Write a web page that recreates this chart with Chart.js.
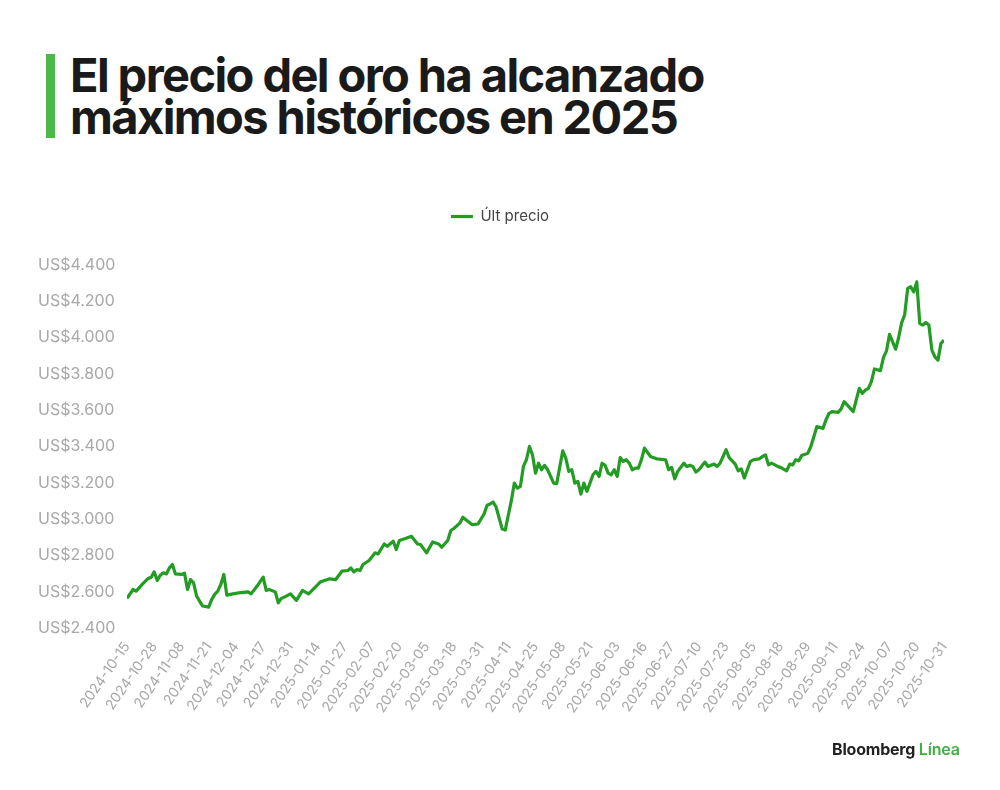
<!DOCTYPE html>
<html lang="es">
<head>
<meta charset="utf-8">
<title>El precio del oro ha alcanzado máximos históricos en 2025</title>
<script src="https://cdn.jsdelivr.net/npm/chart.js@4.4.1/dist/chart.umd.min.js"></script>
<style>
  html, body { margin: 0; padding: 0; background: #fff; }
  body { width: 1000px; height: 790px; position: relative; overflow: hidden; font-family: Inter, "Noto Sans", sans-serif; }
  #chart { position: absolute; left: 0; top: 0; }
  .title {
    position: absolute; left: 46px; top: 54px;
    border-left: 9px solid #4cb848; padding-left: 15px;
    font-weight: 700; font-size: 47px; line-height: 42px; letter-spacing: -1.6px; color: #1a1a1a;
  }
  .logo {
    position: absolute; left: 832px; top: 739px;
    font-size: 16px; font-weight: 700; color: #222; letter-spacing: -0.2px;
  }
  .logo span { color: #3cb043; font-weight: 600; }
</style>
</head>
<body>
<div class="title">El precio del oro ha alcanzado<br>máximos históricos en 2025</div>
<canvas id="chart" width="1000" height="790"></canvas>
<div class="logo">Bloomberg <span>Línea</span></div>
<script>
// trading-day index (0 = 2024-10-15) and last price
const dayIndex = [
    0, 2, 3, 4, 5, 7, 8, 9, 10, 11, 12, 13, 14, 15, 16, 18, 19, 20, 21, 22,
    23, 24, 25, 27, 28, 29, 30, 31, 32, 33, 35, 37, 40, 41, 43, 45, 46, 47, 49, 50,
    51, 52, 54, 56, 58, 60, 62, 64, 67, 69, 71, 73, 74, 75, 76, 77, 78, 80, 82, 83,
    85, 86, 88, 89, 90, 92, 94, 96, 97, 99, 101, 103, 104, 106, 107, 108, 110, 111, 112, 114,
    116, 118, 119, 120, 121, 122, 124, 125, 127, 128, 129, 130, 131, 132, 133, 134, 135, 136, 137, 138,
    139, 141, 142, 144, 145, 146, 147, 148, 149, 150, 151, 152, 153, 154, 155, 156, 157, 158, 159, 160,
    161, 162, 163, 164, 165, 166, 167, 168, 169, 170, 171, 173, 175, 178, 179, 180, 181, 182, 184, 185,
    186, 187, 188, 189, 191, 192, 194, 195, 196, 198, 199, 201, 202, 203, 204, 206, 207, 209, 210, 211,
    212, 213, 215, 216, 218, 219, 220, 221, 222, 223, 225, 226, 227, 228, 230, 231, 232, 233, 235, 236,
    237, 238, 240, 241, 242, 243, 244, 245, 246, 247, 249, 250, 251, 252, 254, 255, 256, 257, 258, 259,
    260, 261, 262, 263, 264, 265, 266, 267, 268, 269, 270
];
const lastPrice = [
    2563, 2612, 2603, 2621, 2640, 2673, 2680, 2709, 2662, 2691, 2704, 2698, 2731, 2750, 2698, 2695, 2702, 2612, 2667, 2649,
    2576, 2548, 2521, 2515, 2558, 2585, 2603, 2640, 2695, 2581, 2588, 2594, 2599, 2588, 2631, 2680, 2607, 2612, 2599, 2539,
    2563, 2570, 2588, 2552, 2607, 2588, 2621, 2655, 2671, 2667, 2713, 2717, 2731, 2709, 2722, 2717, 2750, 2772, 2814, 2808,
    2863, 2850, 2878, 2832, 2882, 2893, 2905, 2863, 2860, 2814, 2874, 2863, 2845, 2882, 2937, 2948, 2978, 3010, 2997, 2970,
    2973, 3028, 3076, 3083, 3094, 3065, 2945, 2940, 3100, 3198, 3171, 3180, 3290, 3327, 3400, 3354, 3253, 3308, 3272, 3296,
    3272, 3198, 3195, 3376, 3336, 3263, 3272, 3198, 3208, 3138, 3198, 3153, 3198, 3244, 3263, 3235, 3308, 3296, 3253, 3244,
    3272, 3235, 3339, 3318, 3327, 3308, 3272, 3281, 3281, 3327, 3391, 3345, 3332, 3327, 3272, 3285, 3222, 3263, 3308, 3290,
    3296, 3290, 3259, 3272, 3314, 3290, 3303, 3290, 3308, 3382, 3339, 3303, 3266, 3277, 3226, 3317, 3327, 3332, 3345, 3354,
    3299, 3308, 3290, 3285, 3266, 3303, 3299, 3327, 3321, 3351, 3363, 3400, 3455, 3510, 3500, 3547, 3583, 3592, 3588, 3607,
    3647, 3629, 3592, 3657, 3720, 3693, 3710, 3720, 3757, 3827, 3818, 3891, 3927, 4018, 3936, 3999, 4081, 4126, 4271, 4280,
    4252, 4307, 4077, 4069, 4083, 4069, 3931, 3894, 3876, 3968, 3986
];
// one label every 9 trading days
const xTickLabels = [
    "2024-10-15", "2024-10-28", "2024-11-08", "2024-11-21", "2024-12-04", "2024-12-17", "2024-12-31",
    "2025-01-14", "2025-01-27", "2025-02-07", "2025-02-20", "2025-03-05", "2025-03-18", "2025-03-31",
    "2025-04-11", "2025-04-25", "2025-05-08", "2025-05-21", "2025-06-03", "2025-06-16", "2025-06-27",
    "2025-07-10", "2025-07-23", "2025-08-05", "2025-08-18", "2025-08-29", "2025-09-11", "2025-09-24",
    "2025-10-07", "2025-10-20", "2025-10-31"
];
const labelStep = 9;
const seriesName = "Últ precio";

const green = "#229c22";

// extra room between legend and plot
const legendGap = {
    id: "legendGap",
    beforeInit(chart) {
        const fit = chart.legend.fit;
        chart.legend.fit = function () {
            fit.bind(chart.legend)();
            this.height += 31;
        };
    }
};

function usd(v) {
    const k = Math.floor(v / 1000);
    const r = String(v % 1000).padStart(3, "0");
    return "US$" + k + "." + r;
}

const points = dayIndex.map((d, i) => ({ x: d, y: lastPrice[i] }));

new Chart(document.getElementById("chart"), {
    type: "line",
    data: {
        datasets: [{
            label: seriesName,
            data: points,
            borderColor: green,
            backgroundColor: green,
            borderWidth: 3.2,
            pointRadius: 0,
            tension: 0,
            borderJoinStyle: "round"
        }]
    },
    plugins: [legendGap],
    options: {
        responsive: false,
        animation: false,
        layout: { padding: { top: 199, left: 38, right: 38, bottom: 62 } },
        plugins: {
            legend: {
                labels: {
                    usePointStyle: true,
                    pointStyle: "line",
                    pointStyleWidth: 22,
                    color: "#444",
                    font: { family: "Inter", size: 15 },
                    padding: 10
                }
            },
            tooltip: { enabled: false }
        },
        scales: {
            x: {
                type: "linear",
                min: 0,
                max: 270,
                grid: { display: false },
                border: { display: false },
                afterFit: (s) => { s.height = 100; },
                ticks: {
                    stepSize: labelStep,
                    autoSkip: false,
                    maxRotation: 55,
                    minRotation: 55,
                    color: "#a8a8a8",
                    font: { family: "Inter", size: 14 },
                    callback: (v) => xTickLabels[v / labelStep] || ""
                }
            },
            y: {
                min: 2400,
                max: 4400,
                grid: { display: false },
                border: { display: false },
                afterFit: (s) => { s.width = 89; },
                ticks: {
                    stepSize: 200,
                    crossAlign: "far",
                    color: "#a8a8a8",
                    font: { family: "Inter", size: 16 },
                    callback: (v) => usd(v)
                }
            },
            // empty right margin so the plot ends where the reference does
            yRight: {
                position: "right",
                min: 2400,
                max: 4400,
                grid: { display: false },
                border: { display: false },
                ticks: { display: false },
                afterFit: (s) => { s.width = 18; }
            }
        }
    }
});
</script>
</body>
</html>
